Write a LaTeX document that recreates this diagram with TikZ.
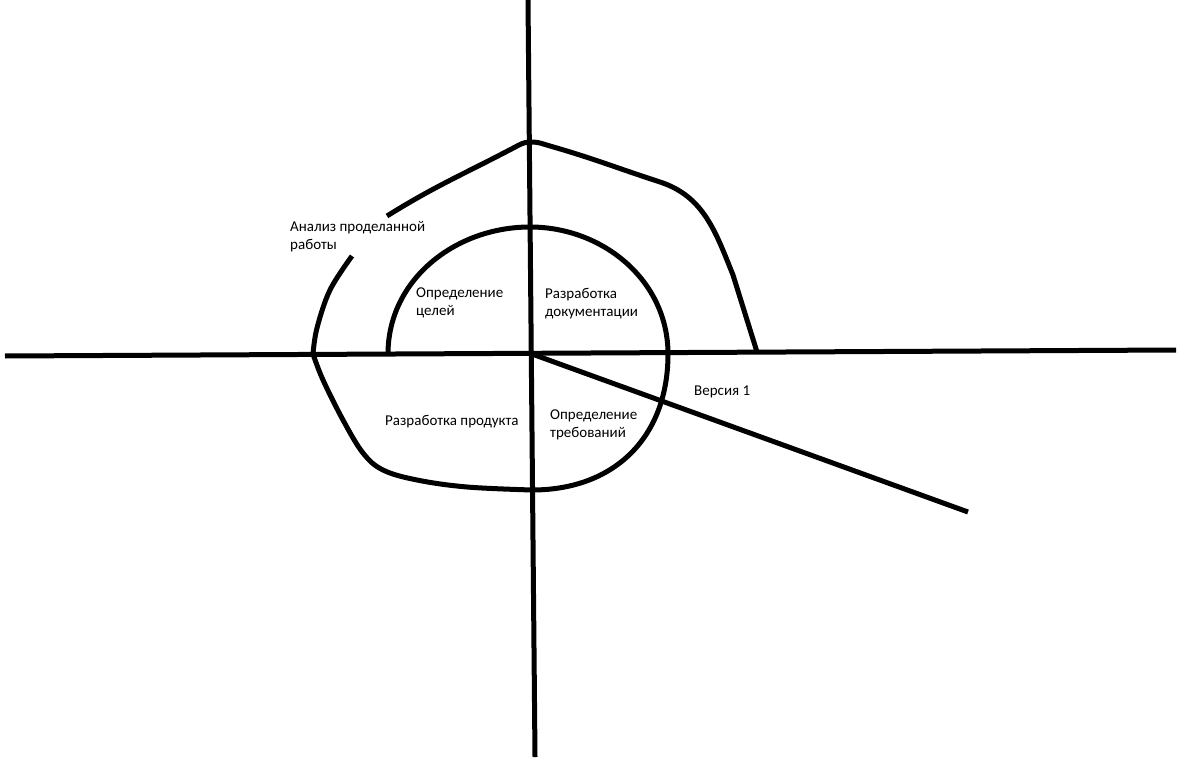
\documentclass[tikz,border=0pt]{standalone}
\usepackage{fontspec}
\setmainfont{Carlito}
\usepackage{tikz}
\usetikzlibrary{positioning, calc}

\tikzset{
	stroke/.style={line width=5pt, black},
	lbl/.style={inner sep=0pt, align=left, anchor=west, font=\fontsize{15}{18}\selectfont}
}

\begin{document}
\begin{tikzpicture}[x=1pt, y=-1pt]
		\useasboundingbox (0,0) rectangle (1193,759);

		% axes
		\coordinate (L) at (5,356);
		\coordinate (R) at (1176,350);
		\coordinate (T) at (528,0);
		\coordinate (B) at (535,757);
		\coordinate (O) at (532,354);
		\coordinate (V) at (968,512);

		\draw[stroke] (L) -- (R);
		\draw[stroke] (T) -- (B);
		\draw[stroke] (O) -- (V);

		% spiral, inner turn
		\coordinate (s0) at (388,354);
		\coordinate (s1) at (530,227);
		\coordinate (s2) at (668,354);
		\coordinate (s3) at (532,490);
		\draw[stroke] (s0) to[out=90, in=180] (s1) to[out=0, in=90] (s2)
			to[out=-90, in=0, looseness=1.1] (s3);

		% spiral, outer turn
		\coordinate (s4) at (313,354);
		\coordinate (s5) at (352,256);
		\coordinate (s6) at (387,216);
		\coordinate (s7) at (532,142);
		\coordinate (s8) at (757,352);
		\draw[stroke] plot[smooth, tension=0.6] coordinates {(s3) (467,487) (417,480) (383,470) (363,453) (343,420) (323,380) (s4)};
		\draw[stroke] plot[smooth, tension=0.6] coordinates {(s4) (317,328) (330,290) (s5)};
		\draw[stroke, line join=round] (s6) to[out=32, in=208] (519,145) to[out=27, in=180] (s7)
			to[out=0, in=165] (550,146) to[out=-16, in=162] (660,182)
			to[out=-18, in=112] (733,275) -- (s8);

		% labels
		\node[lbl] (analiz) at (290,237) {Анализ проделанной\\работы};
		\node[lbl] (celi) at (416,303) {Определение\\целей};
		\node[lbl] (dok) at (545,304) {Разработка\\документации};
		\node[lbl] (prod) at (385,422) {Разработка продукта};
		\node[lbl] (treb) at (550,425) {Определение\\требований};
		\node[lbl] (ver) at (694,392) {Версия 1};

	\end{tikzpicture}
\end{document}
